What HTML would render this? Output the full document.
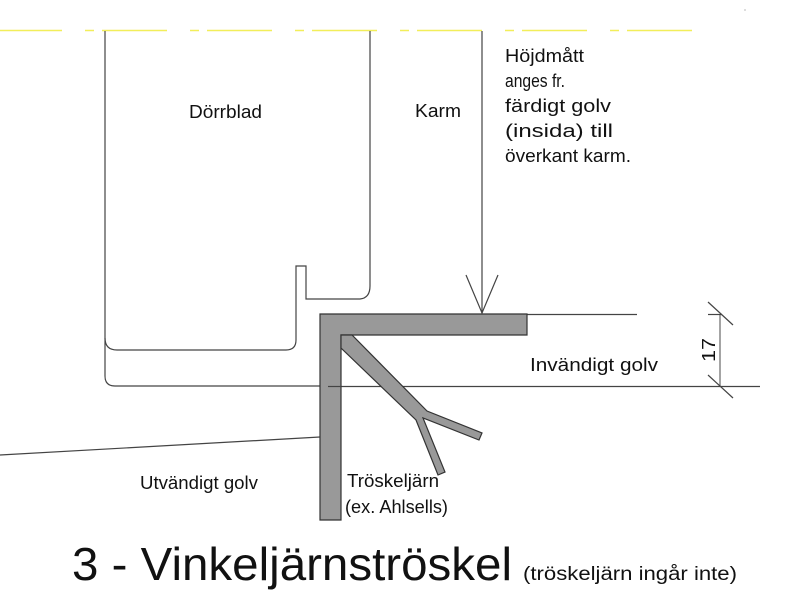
<!DOCTYPE html>
<html><head><meta charset="utf-8"><style>
html,body{margin:0;padding:0;background:#fff}
svg{display:block}
text{font-family:"Liberation Sans",sans-serif;fill:#111}
</style></head><body>
<svg width="800" height="606" viewBox="0 0 800 606" xmlns="http://www.w3.org/2000/svg">
<line x1="0" y1="30.5" x2="695" y2="30.5" stroke="#f2ee5a" stroke-width="1.5" stroke-dasharray="65 23 9 8" stroke-dashoffset="3"/>
<circle cx="745" cy="10" r="0.6" fill="#888"/>
<g fill="none" stroke="#444" stroke-width="1.2">
<!-- door leaf -->
<path d="M105 31 V338 Q105 350 117 350 H286 Q296 350 296 340 V266 H306 V299 H360 Q370 298 370 286 V31"/>
<!-- outer -->
<path d="M105 338 V376 Q105 386 115 386 H320"/>
<line x1="328" y1="386.5" x2="760" y2="386.5"/>
<!-- karm -->
<line x1="482" y1="31" x2="482" y2="313"/>
<path d="M466 275 L482 313 L498 275"/>
<line x1="526" y1="314.5" x2="637" y2="314.5"/>
<line x1="0" y1="455" x2="320" y2="437"/>
<!-- dimension -->
<line x1="720" y1="314" x2="720" y2="386" stroke="#666"/>
<line x1="708" y1="302" x2="733" y2="325"/>
<line x1="708" y1="375" x2="733" y2="398"/>
<line x1="708" y1="314.5" x2="722" y2="314.5"/>
</g>
<g fill="#999" stroke="#333" stroke-width="1.2">
<path d="M320 314 H527 V335 H341 V520 H320 Z"/>
<path d="M341 335 H352 L427 411 L482 433 L479 440 L423 418 L445 472 L438 475 L416 420 L341 348 Z"/>
</g>
<line x1="328" y1="386.5" x2="341" y2="386.5" stroke="#444" stroke-width="1.2"/>
<text x="189" y="118" font-size="18" textLength="73" lengthAdjust="spacingAndGlyphs">Dörrblad</text>
<text x="415" y="117" font-size="18" textLength="46" lengthAdjust="spacingAndGlyphs">Karm</text>
<g font-size="18">
<text x="505" y="62" textLength="79" lengthAdjust="spacingAndGlyphs">Höjdmått</text>
<text x="505" y="87" textLength="60" lengthAdjust="spacingAndGlyphs">anges fr.</text>
<text x="505" y="112" textLength="106" lengthAdjust="spacingAndGlyphs">färdigt golv</text>
<text x="505" y="137" textLength="108" lengthAdjust="spacingAndGlyphs">(insida) till</text>
<text x="505" y="162" textLength="126" lengthAdjust="spacingAndGlyphs">överkant karm.</text>
<text x="530" y="371" textLength="128" lengthAdjust="spacingAndGlyphs">Invändigt golv</text>
<text x="140" y="489" textLength="118" lengthAdjust="spacingAndGlyphs">Utvändigt golv</text>
<text x="347" y="487" textLength="92" lengthAdjust="spacingAndGlyphs">Tröskeljärn</text>
<text x="345" y="513" textLength="103" lengthAdjust="spacingAndGlyphs">(ex. Ahlsells)</text>
</g>
<text transform="translate(715,362) rotate(-90)" font-size="18" fill="#444" textLength="24" lengthAdjust="spacingAndGlyphs">17</text>
<text x="72" y="580" font-size="46" textLength="440" lengthAdjust="spacingAndGlyphs">3 - Vinkeljärnströskel</text>
<text x="523" y="580" font-size="19" textLength="214" lengthAdjust="spacingAndGlyphs">(tröskeljärn ingår inte)</text>
</svg>
</body></html>
